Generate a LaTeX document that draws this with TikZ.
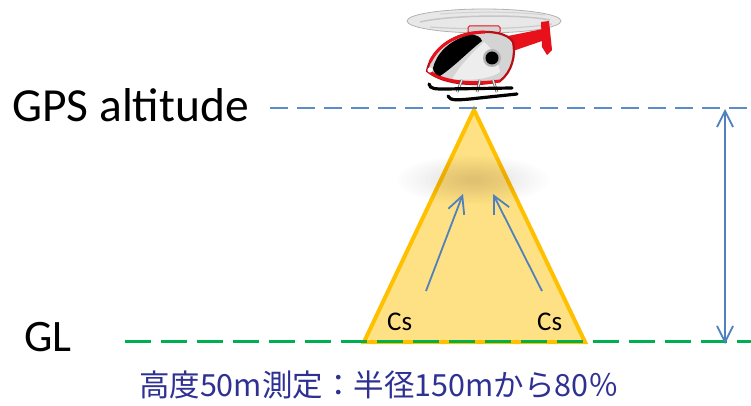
\documentclass[tikz,border=0pt]{standalone}
\usepackage{fontspec}
\setmainfont{Carlito}
\newfontfamily\jpfont{Noto Sans CJK JP}
\usetikzlibrary{arrows.meta}
\definecolor{lineblue}{HTML}{5B8BC8}
\definecolor{arrowblue}{HTML}{4F81BD}
\definecolor{glgreen}{HTML}{00B050}
\definecolor{coneorange}{HTML}{FFC000}
\definecolor{captionblue}{HTML}{2E3192}
\definecolor{helired}{HTML}{E8101A}
\definecolor{heligray}{HTML}{D4D4D4}
\tikzset{
  levelgps/.style={draw=lineblue, line width=2pt, dash pattern=on 18pt off 9pt},
  levelgl/.style={draw=glgreen, line width=3pt, dash pattern=on 26pt off 10pt},
  cone/.style={draw=coneorange, fill=coneorange!48, line width=4pt, line join=miter},
  flow/.style={draw=arrowblue, line width=1.8pt, -{Straight Barb[length=17pt,width=17pt,line width=1.8pt]}},
  span/.style={draw=arrowblue, line width=1.8pt, {Straight Barb[length=16pt,width=16pt,line width=1.8pt]}-{Straight Barb[length=16pt,width=16pt,line width=1.8pt]}},
  biglabel/.style={anchor=base west, inner sep=0pt},
  cslabel/.style={anchor=base west, inner sep=0pt, font=\fontsize{27}{32}\selectfont},
  caption/.style={inner sep=0pt, text=captionblue, font=\jpfont\fontsize{30.5}{36}\selectfont},
}
\begin{document}
\begin{tikzpicture}[x=1pt,y=-1pt]
  \useasboundingbox[fill=white] (0,0) rectangle (751,406);

  % key points
  \coordinate (apex) at (474,110);
  \coordinate (bl) at (364,342);
  \coordinate (br) at (585,342);
  \coordinate (gpsstart) at (270,108);
  \coordinate (gpsend) at (751,108);
  \coordinate (glstart) at (125,341);
  \coordinate (glend) at (751,341);
  \coordinate (spantop) at (725,109);
  \coordinate (spanbot) at (725,344);
  \coordinate (ltail) at (426,291);
  \coordinate (lhead) at (463,194);
  \coordinate (rtail) at (542,291);
  \coordinate (rhead) at (493,194);

  % measurement cone
  \draw[cone] (apex) -- (br) -- (bl) -- cycle;

  % soft shadow inside the cone
  \foreach \k in {1,...,16}{
    \fill[black, opacity=0.009] (473,180) ellipse ({80-4.5*\k} and {26-1.4*\k});
  }

  % altitude reference lines
  \draw[levelgps] (gpsstart) -- (gpsend);
  \draw[levelgl] (glstart) -- (glend);

  % radiation arrows
  \draw[flow] (ltail) -- (lhead);
  \draw[flow] (rtail) -- (rhead);

  % altitude span
  \draw[span] (spantop) -- (spanbot);

  % labels
  \node[biglabel, font=\fontsize{47.5}{54}\selectfont] (gps) at (12,122) {GPS altitude};
  \node[biglabel, font=\fontsize{45}{52}\selectfont] (gl) at (24,351) {GL};
  \node[cslabel] (csl) at (387,330) {Cs};
  \node[cslabel] (csr) at (537,330) {Cs};
  \node[caption] (cap) at (379,385) {高度50m測定：半径150mから80％};

  % helicopter
  \begin{scope}
    % rotor disc
    \fill[gray!18] (484,21) ellipse (77 and 12);
    \draw[gray!60, line width=0.8pt] (484,21) ellipse (77 and 12);
    \draw[gray!45, line width=1.5pt] (420,22) .. controls (450,15) and (520,14) .. (550,20);
    \draw[gray!40, line width=1.2pt] (430,27) .. controls (470,30) and (520,29) .. (552,24);
    \draw[gray!35, line width=1pt] (440,14) .. controls (480,11) and (520,12) .. (545,15);
    % tail fin and boom
    \fill[helired] (541,22) -- (549,21) -- (552,50) -- (547,55) -- (542,47) -- cycle;
    \fill[helired] (508,36) -- (543,29) -- (545,40) -- (510,52) -- cycle;
    % hub
    \fill[heligray, draw=helired, line width=1pt, rounded corners=1.5pt] (468,26) rectangle (500,33);
    % body
    \fill[heligray, draw=helired!80!black, line width=2.2pt]
      (427,71) .. controls (430,55) and (445,38) .. (470,33)
      .. controls (490,30) and (508,33) .. (513,42)
      .. controls (516,55) and (512,72) .. (500,81)
      .. controls (480,86) and (445,86) .. (427,71) -- cycle;
    % red trim along the lower front
    \draw[helired, line width=3pt] (428,70) .. controls (440,82) and (470,85) .. (500,81);
    \draw[helired, line width=3pt] (430,62) .. controls (440,42) and (460,33) .. (485,32);
    % windshield
    \fill[black]
      (433,68) .. controls (436,55) and (448,40) .. (470,35)
      .. controls (476,34) and (481,37) .. (482,41)
      .. controls (470,50) and (455,66) .. (440,76)
      .. controls (436,75) and (433,72) .. (433,68) -- cycle;
    % light panel behind the windshield
    \fill[white, opacity=0.6] (484,42) .. controls (470,55) and (460,66) .. (452,79)
      .. controls (470,81) and (490,79) .. (500,72) .. controls (498,60) and (492,48) .. (484,42) -- cycle;
    % side window
    \fill[gray!60] (492,58) circle (9);
    \fill[black] (492,58) circle (6.5);
    % headlight
    \fill[white] (430,70) circle (2.6);
    % skid struts
    \foreach \a/\b in {462/457, 480/477, 493/497}{
      \draw[gray!70!black, line width=2.6pt] (\a,80) -- (\b,92);
      \draw[white!85!gray, line width=1.2pt] (\a,80) -- (\b,92);
    }
    % skids
    \draw[black, line width=3.2pt, line cap=round] (429,84) .. controls (430,89) and (435,89) .. (445,89) -- (512,88);
    \draw[black, line width=3.2pt, line cap=round] (448,96) .. controls (450,101) and (458,100) .. (470,99) -- (517,94);
  \end{scope}
\end{tikzpicture}
\end{document}
